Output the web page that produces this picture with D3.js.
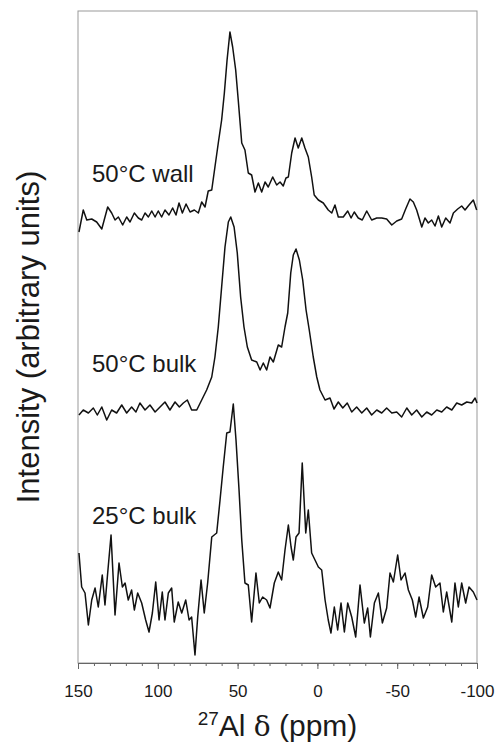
<!DOCTYPE html>
<html>
<head>
<meta charset="utf-8">
<script src="https://cdn.jsdelivr.net/npm/d3@7"></script>
<style>
  body { margin: 0; background: #fff; }
  text { font-family: "Liberation Sans", Arial, sans-serif; fill: #1a1a1a; }
</style>
</head>
<body>
<div id="chart"></div>
<script>
// 27Al spectra, intensity in arbitrary units (baseline of each trace ~ 0)
const wallPpm = [149.4,146.7,144.5,141.4,138.3,135.1,131.4,128.9,126.8,124.7,
  122.0,119.5,117.4,114.7,112.2,110.1,108.0,105.9,103.8,101.7,
  99.7,97.6,95.5,93.0,90.7,88.6,86.7,84.6,82.3,79.8,
  77.1,74.6,72.5,70.4,68.4,66.2,64.2,62.1,60.0,58.3,
  56.6,54.8,53.1,51.2,49.6,47.4,45.4,43.3,41.2,39.1,
  37.0,34.9,32.8,30.8,28.0,25.5,23.4,21.4,19.7,18.2,
  16.1,14.0,12.0,9.8,7.8,5.7,3.6,2.0,-0.6,-3.7,
  -6.8,-9.0,-11.0,-13.1,-16.2,-19.0,-21.1,-23.1,-25.6,-28.1,
  -30.9,-34.0,-37.2,-40.3,-43.4,-46.6,-49.7,-52.8,-55.3,-58.0,
  -60.1,-62.2,-65.4,-67.4,-69.5,-71.6,-73.7,-75.8,-77.9,-80.4,
  -83.1,-85.2,-87.9,-90.4,-92.5,-95.0,-97.7,-99.8];
const wallInt = [-12,10,0,1,-2,-9,13,7,0,3,
  -5,3,-2,7,2,0,7,3,9,3,
  9,3,10,5,12,5,17,7,16,8,
  10,7,18,13,29,30,53,77,100,127,
  160,188,173,150,120,77,70,47,45,28,
  37,28,38,33,43,35,38,34,42,43,
  67,82,72,82,72,63,43,25,20,17,
  10,7,15,3,3,9,2,8,2,0,
  9,0,2,2,1,-5,-1,1,11,21,
  18,10,-7,2,-3,0,-6,4,-7,2,
  -3,7,11,14,10,15,20,10];

const bulk50Ppm = [149.4,146.7,143.5,140.4,137.9,135.1,132.0,128.9,125.8,122.6,
  119.5,116.4,113.7,111.2,108.0,104.9,101.7,98.6,95.5,92.4,
  89.2,86.5,84.0,81.5,78.8,75.6,72.5,69.4,66.2,64.2,
  62.1,60.0,57.9,55.8,54.3,52.2,50.2,48.1,46.0,43.9,
  41.2,38.0,35.9,33.9,31.8,29.7,27.6,24.5,22.4,20.3,
  18.6,16.7,15.1,13.4,11.3,9.2,7.1,5.1,2.6,0.4,
  -1.6,-4.8,-7.9,-10.4,-13.1,-15.9,-18.7,-21.5,-24.6,-27.8,
  -30.9,-34.0,-37.2,-40.3,-43.4,-46.6,-49.7,-52.8,-56.0,-59.1,
  -62.2,-65.4,-68.5,-71.6,-74.8,-77.9,-81.0,-84.2,-87.3,-90.4,
  -93.6,-96.7,-98.8,-100];
const bulk50Int = [-5,0,-3,2,-5,3,-10,0,-3,5,
  -3,3,-2,7,0,5,-2,3,8,0,
  8,3,7,10,0,0,10,20,33,53,
  83,123,163,188,193,183,157,113,83,63,
  50,48,40,47,40,53,48,65,63,83,
  97,137,155,161,150,130,100,80,53,33,
  20,10,12,1,8,2,7,-2,3,-3,
  2,-5,0,-3,2,-3,-2,-7,2,-5,
  0,-7,-2,-5,0,-2,3,0,7,5,
  8,7,12,7];

const bulk25Ppm = [149.4,147.7,145.6,143.5,141.4,139.3,137.3,134.8,133.1,131.4,
  129.3,126.8,124.3,122.2,120.5,118.5,116.4,114.7,112.6,110.1,
  107.6,105.5,103.4,101.3,99.2,97.2,95.5,93.4,91.3,89.7,
  87.2,85.0,82.5,80.4,78.8,76.7,75.0,72.9,70.9,68.7,
  66.2,63.1,61.0,59.0,56.8,54.8,52.7,51.0,49.1,47.4,
  45.4,43.3,41.2,38.5,36.4,34.3,31.8,29.7,27.0,24.5,
  22.4,20.3,18.2,16.5,15.1,13.4,11.5,9.5,7.3,5.7,
  3.6,1.5,-0.6,-2.7,-4.8,-6.8,-8.5,-10.6,-12.7,-14.8,
  -16.9,-19.0,-21.5,-24.0,-26.7,-29.4,-31.5,-33.2,-35.7,-38.2,
  -40.7,-43.4,-45.5,-47.6,-50.3,-52.4,-54.9,-57.0,-59.5,-61.6,
  -63.7,-66.4,-69.1,-71.6,-74.1,-76.8,-78.9,-81.0,-84.2,-86.2,
  -88.3,-90.4,-92.9,-95.0,-97.7,-100];
const bulk25Int = [37,3,-3,-35,-10,2,-17,15,-15,17,
  55,-25,27,3,7,-10,0,-20,-3,-13,
  -30,-42,-23,8,-30,-2,-30,-3,2,-32,
  -12,-23,-10,-30,-27,-65,-27,10,-23,8,
  53,57,90,123,157,158,186,150,100,50,
  7,5,-32,17,-13,-7,-10,-18,7,18,
  10,40,65,43,30,53,57,127,57,80,
  37,30,23,20,-10,-30,-43,-17,-40,-13,
  -42,-13,-27,-47,5,-33,-18,-47,-13,-3,
  -33,-18,17,8,35,10,17,0,-10,-27,
  -7,-28,-17,15,3,7,-22,-2,-32,7,
  -17,7,-13,3,-2,-10];

const seriesNames = ["50°C wall", "50°C bulk", "25°C bulk"];
const seriesOffsets = [443, 253, 73];   // vertical stacking offsets (arb. units)
const xTicks = [150, 100, 50, 0, -50, -100];

const totalW = 495, totalH = 742;
const margin = { top: 11, right: 18, bottom: 79, left: 78 };
const width = totalW - margin.left - margin.right;
const height = totalH - margin.top - margin.bottom;

const svg = d3.select("#chart").append("svg")
  .attr("width", totalW)
  .attr("height", totalH);

const g = svg.append("g")
  .attr("transform", `translate(${margin.left},${margin.top})`);

const x = d3.scaleLinear().domain([150, -100]).range([0, width]);
const y = d3.scaleLinear().domain([0, 652]).range([height, 0]);

// plot frame
g.append("rect")
  .attr("width", width).attr("height", height)
  .attr("fill", "none").attr("stroke", "#999").attr("stroke-width", 1);

// minor ticks
const minorAxis = d3.axisBottom(x).tickValues(d3.range(150, -101, -10))
  .tickSize(3).tickFormat("");
g.append("g").attr("transform", `translate(0,${height})`).call(minorAxis)
  .call(a => a.selectAll("line").attr("stroke", "#666"))
  .call(a => a.select(".domain").attr("stroke", "#666"));

// major ticks with labels
const xAxis = d3.axisBottom(x).tickValues(xTicks).tickSize(6).tickPadding(16)
  .tickFormat(d => String(d));
g.append("g").attr("transform", `translate(0,${height})`).call(xAxis)
  .call(a => a.select(".domain").remove())
  .call(a => a.selectAll("line").attr("stroke", "#666"))
  .call(a => a.selectAll("text").attr("font-size", 17)
    .style("font-family", '"Liberation Sans", Arial, sans-serif').attr("fill", "#1a1a1a"));

// traces
const traces = [
  { ppm: wallPpm, val: wallInt },
  { ppm: bulk50Ppm, val: bulk50Int },
  { ppm: bulk25Ppm, val: bulk25Int }
];

traces.forEach((t, i) => {
  const pts = t.ppm.map((p, k) => [p, t.val[k] + seriesOffsets[i]]);
  const line = d3.line().x(d => x(d[0])).y(d => y(d[1]));
  g.append("path").datum(pts)
    .attr("d", line)
    .attr("fill", "none")
    .attr("stroke", "#111")
    .attr("stroke-width", 1.5)
    .attr("stroke-linejoin", "round");
});

// trace labels
const labelBase = [182, 372, 524];
seriesNames.forEach((name, i) => {
  svg.append("text")
    .attr("x", 92).attr("y", labelBase[i])
    .attr("font-size", 24)
    .text(name);
});

// x axis title
const xt = svg.append("text")
  .attr("x", margin.left + width / 2).attr("y", 736)
  .attr("text-anchor", "middle")
  .attr("font-size", 30);
xt.append("tspan").attr("font-size", 19).attr("dy", -11).text("27");
xt.append("tspan").attr("dy", 11).text("Al ");
xt.append("tspan").style("font-family", '"DejaVu Serif", "Liberation Serif", serif').attr("font-size", 28).text("δ");
xt.append("tspan").text(" (ppm)");

// y axis title
svg.append("text")
  .attr("transform", `translate(39,${margin.top + height / 2}) rotate(-90)`)
  .attr("text-anchor", "middle")
  .attr("font-size", 31)
  .text("Intensity (arbitrary units)");
</script>
</body>
</html>
